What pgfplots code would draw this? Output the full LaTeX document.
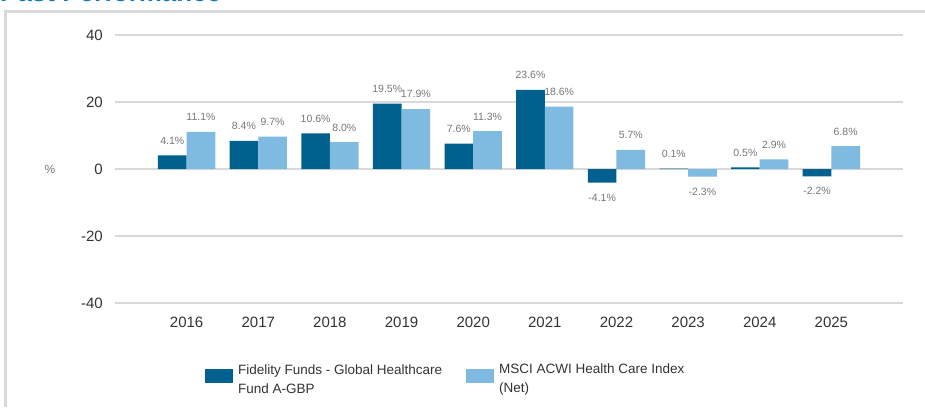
\documentclass[border=0pt]{standalone}
\usepackage{pgfplots}
\pgfplotsset{compat=1.18}
\usepackage{fontspec}
\setmainfont{Liberation Sans}
\definecolor{fund}{HTML}{00618E}
\definecolor{idx}{HTML}{7FBAE0}
\definecolor{gridc}{HTML}{D9D9D9}
\definecolor{tickc}{HTML}{333333}
\definecolor{lblc}{HTML}{777777}
\definecolor{titlec}{HTML}{0A7BC2}
\begin{document}
\begin{tikzpicture}[x=1pt,y=1pt]
\useasboundingbox (0,0) rectangle (925,407);
\begin{scope}
\clip (0,0) rectangle (925,407);
\node[anchor=base west, inner sep=0pt, text=titlec, font=\fontsize{26}{30}\selectfont\bfseries] at (0,405) {Past Performance};
\end{scope}
\draw[gridc, line width=3pt] (5.5,0) -- (5.5,395.5) -- (925,395.5);
\begin{axis}[at={(115pt,104pt)}, anchor=south west, scale only axis,
  width=788pt, height=268pt,
  xmin=-1, xmax=10, ymin=-40, ymax=40,
  ytick={-40,-20,0,20,40},
  xtick={0,1,2,3,4,5,6,7,8,9},
  xticklabels={2016,2017,2018,2019,2020,2021,2022,2023,2024,2025},
  axis line style={draw=none}, major tick length=0pt,
  ymajorgrids, major grid style={gridc, line width=2pt},
  ybar=0pt, bar width=0.4,
  /pgf/number format/assume math mode=true,
  ticklabel style={font=\fontsize{15}{18}\selectfont, text=tickc},
  yticklabel style={anchor=east, inner sep=0pt, xshift=-12pt},
  xticklabel style={anchor=north, inner sep=0pt, yshift=-14pt},
  ylabel={\%},
  ylabel style={at={(axis description cs:-0.0825,0.5)}, rotate=-90, anchor=center, font=\fontsize{12}{14}\selectfont, text=lblc},
  nodes near coords={\pgfmathprintnumber[fixed,fixed zerofill,precision=1]{\pgfplotspointmeta}\%},
  every node near coord/.append style={font=\fontsize{10.5}{12}\selectfont, text=lblc, inner sep=0pt, outer sep=11pt},
  legend columns=2,
  legend style={at={(axis description cs:0.1142,-0.2724)}, anchor=west, draw=none, fill=none, inner sep=0pt, column sep=0pt, row sep=0pt, nodes={inner sep=0pt, text=tickc, font=\fontsize{13.5}{19}\selectfont}},
  legend image code/.code={\fill[#1,draw=none] (0pt,-7pt) rectangle (28pt,7pt); \path (33pt,0pt);},
]
\addplot[fill=fund, draw=none] coordinates {(0,4.1) (1,8.4) (2,10.6) (3,19.5) (4,7.6) (5,23.6) (6,-4.1) (7,0.1) (8,0.5) (9,-2.2)};
\addlegendentry{\raisebox{3pt}{\parbox[c]{228pt}{Fidelity Funds - Global Healthcare\\Fund A-GBP}}}
\addplot[fill=idx, draw=none] coordinates {(0,11.1) (1,9.7) (2,8.0) (3,17.9) (4,11.3) (5,18.6) (6,5.7) (7,-2.3) (8,2.9) (9,6.8)};
\addlegendentry{\raisebox{3pt}{\parbox[c]{228pt}{MSCI ACWI Health Care Index\\(Net)}}}
\end{axis}
\end{tikzpicture}
\end{document}
